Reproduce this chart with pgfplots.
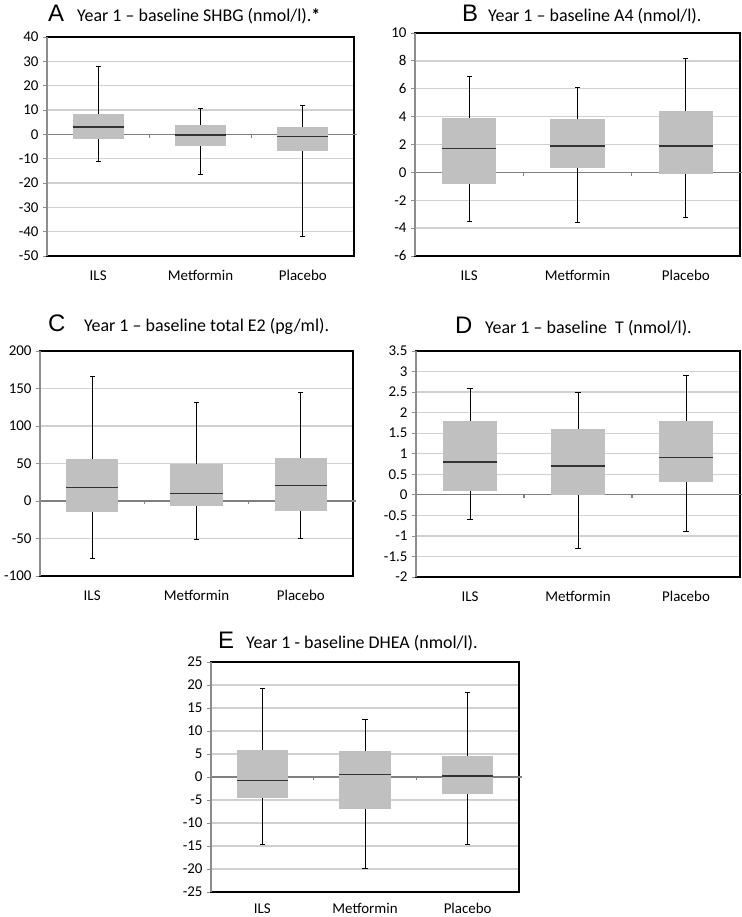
\documentclass[border=0pt]{standalone}
\usepackage{pgfplots}
\pgfplotsset{compat=1.18}
\usepackage{fontspec}
\setmainfont{Carlito}
\newfontfamily\letterfont{Liberation Sans}
\definecolor{boxgray}{RGB}{192,192,192}
\definecolor{gridgray}{RGB}{208,208,208}
\definecolor{zerogray}{RGB}{128,128,128}
\definecolor{axisgray}{RGB}{140,140,140}

\pgfplotsset{
  panel/.style={
    scale only axis, anchor=north west, clip=false,
    xmin=0.5, xmax=3.5,
    xtick={1,2,3}, xticklabels={ILS,Metformin,Placebo},
    xtick style={draw=none},
    xticklabel style={font=\fontsize{15}{17}\selectfont, yshift=-7bp},
    yticklabel style={font=\fontsize{15}{17}\selectfont, xshift=-1bp},
    ytick style={axisgray, line width=0.8bp},
    ytick pos=left,
    tick align=outside, major tick length=4bp,
    ymajorgrids, grid style={gridgray, line width=1.3bp},
    axis line style={black, line width=1.1bp},
    /pgf/number format/assume math mode=true,
  },
  zl/.style={zerogray, line width=1.3bp, forget plot},
  sp/.style={axisgray, line width=1.1bp, forget plot},
}
% #1 left, #2 centre, #3 right, #4 lower whisker, #5 lower quartile, #6 median, #7 upper quartile, #8 upper whisker
\newcommand\bx[8]{%
  \addplot[black, line width=0.9bp, mark=-, mark size=2.6bp, mark options={solid, line width=0.9bp}, forget plot] coordinates {(#2,#4) (#2,#8)};
  \addplot[fill=boxgray, draw=none, forget plot] coordinates {(#1,#5) (#3,#5) (#3,#7) (#1,#7)} -- cycle;
  \addplot[black!80, line width=1.3bp, forget plot] coordinates {(#1,#6) (#3,#6)};
}

\begin{document}
\begin{tikzpicture}
\useasboundingbox (0,0) rectangle (742bp,-917bp);

% ---------------- A ----------------
\node[anchor=base west, inner sep=0] at (48bp,-21bp) {\letterfont\fontsize{24}{24}\selectfont A};
\node[anchor=base west, inner sep=0] at (77bp,-21bp) {\fontsize{18}{20}\selectfont Year 1 – baseline SHBG (nmol/l).\textbf{*}};
\begin{axis}[panel, at={(47bp,-37bp)}, width=307bp, height=219bp,
  ymin=-50, ymax=40, ytick={-50,-40,...,40}]
\addplot[zl] coordinates {(0.5,0) (3.53,0)};
\addplot[zl] coordinates {(1.5,0) (1.5,-1.4)};
\addplot[zl] coordinates {(2.5,0) (2.5,-1.4)};
\bx{0.75}{1}{1.25}{-11}{-2}{3}{8.5}{28}
\bx{1.75}{2}{2.25}{-16.5}{-5}{-0.3}{4}{10.5}
\bx{2.75}{3}{3.25}{-42}{-7}{-1}{3}{12}
\addplot[sp] coordinates {(0.5,-50) (0.5,40)};
\end{axis}

% ---------------- B ----------------
\node[anchor=base west, inner sep=0] at (462bp,-21bp) {\letterfont\fontsize{24}{24}\selectfont B};
\node[anchor=base west, inner sep=0] at (488bp,-21bp) {\fontsize{18}{20}\selectfont Year 1 – baseline A4 (nmol/l).};
\begin{axis}[panel, at={(415bp,-33bp)}, width=325bp, height=223bp,
  ymin=-6, ymax=10, ytick={-6,-4,...,10}]
\addplot[zl] coordinates {(0.5,0) (3.53,0)};
\addplot[zl] coordinates {(1.5,0) (1.5,-0.25)};
\addplot[zl] coordinates {(2.5,0) (2.5,-0.25)};
\bx{0.75}{1}{1.25}{-3.5}{-0.8}{1.7}{3.9}{6.9}
\bx{1.75}{2}{2.25}{-3.6}{0.3}{1.9}{3.8}{6.1}
\bx{2.75}{3}{3.25}{-3.2}{-0.1}{1.9}{4.4}{8.2}
\addplot[sp] coordinates {(0.5,-6) (0.5,10)};
\end{axis}

% ---------------- C ----------------
\node[anchor=base west, inner sep=0] at (48bp,-331bp) {\letterfont\fontsize{24}{24}\selectfont C};
\node[anchor=base west, inner sep=0] at (84bp,-331bp) {\fontsize{18}{20}\selectfont Year 1 – baseline total E2 (pg/ml).};
\begin{axis}[panel, at={(40bp,-351bp)}, width=313bp, height=225bp,
  ymin=-100, ymax=200, ytick={-100,-50,...,200}]
\addplot[zl] coordinates {(0.5,0) (3.53,0)};
\addplot[zl] coordinates {(1.5,0) (1.5,-4.5)};
\addplot[zl] coordinates {(2.5,0) (2.5,-4.5)};
\bx{0.75}{1}{1.25}{-76}{-15}{18}{56}{166}
\bx{1.75}{2}{2.25}{-51}{-7}{10}{50}{132}
\bx{2.75}{3}{3.25}{-50}{-13}{21}{57}{145}
\addplot[sp] coordinates {(0.5,-100) (0.5,200)};
\end{axis}

% ---------------- D ----------------
\node[anchor=base west, inner sep=0] at (455bp,-333bp) {\letterfont\fontsize{24}{24}\selectfont D};
\node[anchor=base west, inner sep=0] at (485bp,-333bp) {\fontsize{18}{20}\selectfont Year 1 – baseline\ \ T (nmol/l).};
\begin{axis}[panel, at={(416bp,-351bp)}, width=324bp, height=226bp,
  ymin=-2, ymax=3.5, ytick={-2,-1.5,...,3.5}]
\addplot[zl] coordinates {(0.5,0) (3.53,0)};
\addplot[zl] coordinates {(1.5,0) (1.5,-0.08)};
\addplot[zl] coordinates {(2.5,0) (2.5,-0.08)};
\bx{0.75}{1}{1.25}{-0.6}{0.1}{0.8}{1.8}{2.6}
\bx{1.75}{2}{2.25}{-1.3}{0}{0.7}{1.6}{2.5}
\bx{2.75}{3}{3.25}{-0.9}{0.3}{0.9}{1.8}{2.9}
\addplot[sp] coordinates {(0.5,-2) (0.5,3.5)};
\end{axis}

% ---------------- E ----------------
\node[anchor=base west, inner sep=0] at (218bp,-648bp) {\letterfont\fontsize{24}{24}\selectfont E};
\node[anchor=base west, inner sep=0] at (246bp,-648bp) {\fontsize{18}{20}\selectfont Year 1 - baseline DHEA (nmol/l).};
\begin{axis}[panel, at={(211bp,-662bp)}, width=308bp, height=230bp,
  ymin=-25, ymax=25, ytick={-25,-20,...,25},
  xticklabel style={yshift=3bp}]
\addplot[zl] coordinates {(0.5,0) (3.53,0)};
\addplot[zl] coordinates {(1.5,0) (1.5,-0.7)};
\addplot[zl] coordinates {(2.5,0) (2.5,-0.7)};
\bx{0.75}{1}{1.25}{-14.6}{-4.5}{-0.7}{5.8}{19.2}
\bx{1.75}{2}{2.25}{-19.8}{-7}{0.5}{5.7}{12.6}
\bx{2.75}{3}{3.25}{-14.7}{-3.8}{0.2}{4.5}{18.4}
\addplot[sp] coordinates {(0.5,-25) (0.5,25)};
\end{axis}
\end{tikzpicture}
\end{document}
